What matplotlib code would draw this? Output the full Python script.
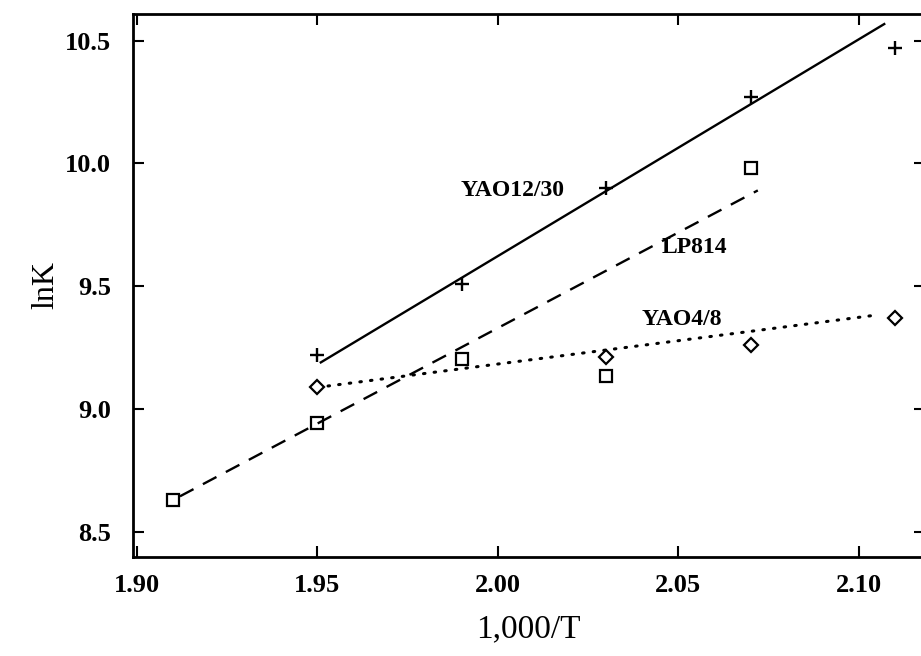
import matplotlib
matplotlib.use("Agg")
import matplotlib.pyplot as plt

plt.rcParams['font.family'] = ['Liberation Serif', 'DejaVu Serif']

# YAO12/30 (plus markers, solid fit line)
x_yao1230 = [1.95, 1.99, 2.03, 2.07, 2.11]
y_yao1230 = [9.22, 9.51, 9.90, 10.27, 10.47]
fit_x_yao1230 = [1.951, 2.107]
fit_y_yao1230 = [9.19, 10.567]

# LP814 (open squares, dashed fit line)
x_lp814 = [1.91, 1.95, 1.99, 2.03, 2.07]
y_lp814 = [8.63, 8.945, 9.205, 9.135, 9.98]
fit_x_lp814 = [1.912, 2.072]
fit_y_lp814 = [8.645, 9.89]

# YAO4/8 (open diamonds, dotted fit line)
x_yao48 = [1.95, 2.03, 2.07, 2.11]
y_yao48 = [9.09, 9.21, 9.26, 9.37]
fit_x_yao48 = [1.953, 2.105]
fit_y_yao48 = [9.094, 9.383]

xticks = [1.90, 1.95, 2.00, 2.05, 2.10]
yticks = [8.5, 9.0, 9.5, 10.0, 10.5]

fig = plt.figure(figsize=(9.21, 6.56), dpi=100)
ax = fig.add_axes([0.1444, 0.1509, 0.8596, 0.8278])

# fitted lines
ax.plot(fit_x_yao1230, fit_y_yao1230, '-', color='black', lw=1.7)
ax.plot(fit_x_lp814, fit_y_lp814, color='black', lw=1.7, linestyle=(0, (6.5, 4.5)))
ax.plot(fit_x_yao48, fit_y_yao48, color='black', lw=2.2, linestyle=(0, (0.5, 3.0)),
        dash_capstyle='round')

# data points
ax.plot(x_yao1230, y_yao1230, '+', color='black', ms=10, mew=1.7, ls='none')
ax.plot(x_lp814, y_lp814, 's', color='black', ms=9, mew=1.6, mfc='none', ls='none')
ax.plot(x_yao48, y_yao48, 'D', color='black', ms=7, mew=1.6, mfc='none', ls='none')

# line labels
ax.text(2.0042, 9.888, 'YAO12/30', fontsize=17, fontweight='bold', ha='center', va='center')
ax.text(2.0545, 9.656, 'LP814', fontsize=17, fontweight='bold', ha='center', va='center')
ax.text(2.051, 9.363, 'YAO4/8', fontsize=17, fontweight='bold', ha='center', va='center')

ax.set_xlim(1.899, 2.1182)
ax.set_ylim(8.398, 10.608)
ax.set_xticks(xticks)
ax.set_yticks(yticks)
ax.set_xticklabels(['%.2f' % v for v in xticks])
ax.set_yticklabels(['%.1f' % v for v in yticks])
ax.tick_params(direction='in', length=8, width=1.5, top=True, right=True,
               labelsize=19)
ax.tick_params(axis='y', pad=16)
ax.tick_params(axis='x', pad=12)
for lab in ax.get_xticklabels() + ax.get_yticklabels():
    lab.set_fontweight('bold')
for sp in ax.spines.values():
    sp.set_linewidth(2)

ax.set_xlabel('1,000/T', fontsize=24, labelpad=12)
ax.set_ylabel('lnK', fontsize=23, labelpad=3)

fig.savefig('out.png', dpi=100)
